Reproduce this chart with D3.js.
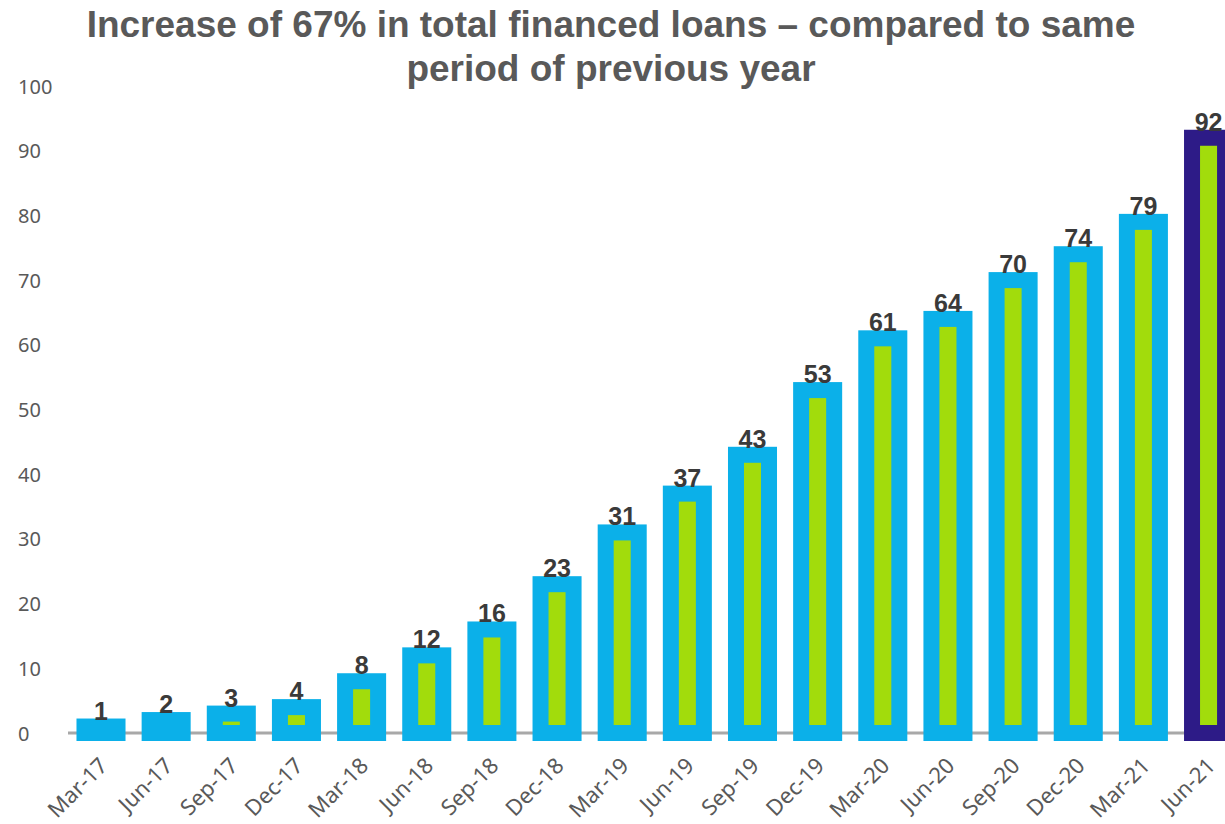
<!DOCTYPE html>
<html>
<head>
<meta charset="utf-8">
<script src="https://cdn.jsdelivr.net/npm/d3@7"></script>
<style>
  html, body { margin: 0; padding: 0; background: #ffffff; }
  svg { display: block; }
</style>
</head>
<body>
<svg id="chart" width="1225" height="824"></svg>
<script>
// Quarterly cumulative financed loans
const periods = ["Mar-17", "Jun-17", "Sep-17", "Dec-17", "Mar-18", "Jun-18", "Sep-18", "Dec-18",
                 "Mar-19", "Jun-19", "Sep-19", "Dec-19", "Mar-20", "Jun-20", "Sep-20", "Dec-20",
                 "Mar-21", "Jun-21"];
const values = [1, 2, 3, 4, 8, 12, 16, 23, 31, 37, 43, 53, 61, 64, 70, 74, 79, 92];
const yTicks = [0, 10, 20, 30, 40, 50, 60, 70, 80, 90, 100];
const titleLines = ["Increase of 67% in total financed loans \u2013 compared to same",
                    "period of previous year"];

const svg = d3.select("#chart");
const W = 1225;

const y = d3.scaleLinear().domain([0, 100]).range([733, 86]);
const step = 65.15;
const x = d3.scaleBand()
  .domain(periods)
  .range([101 - step / 2, 101 - step / 2 + step * periods.length])
  .paddingInner(0.493)
  .paddingOuter(0.2465);

const gray = "#595959";
const blue = "#0bb0e9";
const green = "#a2dc0c";
const purple = "#2d1b87";
const sw = 16;

// Title
svg.append("g").selectAll("text")
  .data(titleLines)
  .join("text")
  .attr("x", 611)
  .attr("y", (d, i) => 37 + i * 44)
  .attr("text-anchor", "middle")
  .attr("font-family", "Liberation Sans, Arial, sans-serif")
  .attr("font-weight", "bold")
  .attr("font-size", 37)
  .attr("fill", gray)
  .text(d => d);

// Y axis labels (left aligned, no axis line)
const yAxis = d3.axisLeft(y).tickValues(yTicks).tickSize(0).tickPadding(0);
const gy = svg.append("g").attr("transform", "translate(18,0)").call(yAxis);
gy.select(".domain").remove();
gy.selectAll("text")
  .attr("text-anchor", "start")
  .attr("x", 0)
  .attr("dy", "0.35em")
  .attr("font-family", "Noto Sans, sans-serif")
  .attr("font-size", 20)
  .attr("fill", gray);

// Baseline
svg.append("line")
  .attr("x1", 68).attr("x2", W)
  .attr("y1", y(0)).attr("y2", y(0))
  .attr("stroke", "#a8a8a8")
  .attr("stroke-width", 3);

// Bars: thick outline with inner fill
const last = periods.length - 1;
svg.append("g").selectAll("rect")
  .data(values)
  .join("rect")
  .attr("x", (d, i) => x(periods[i]))
  .attr("width", x.bandwidth())
  .attr("y", d => y(d))
  .attr("height", d => y(0) - y(d))
  .attr("fill", green)
  .attr("stroke", (d, i) => i === last ? purple : blue)
  .attr("stroke-width", sw);

// Value labels
svg.append("g").selectAll("text")
  .data(values)
  .join("text")
  .attr("x", (d, i) => x(periods[i]) + x.bandwidth() / 2)
  .attr("y", d => y(d) - sw / 2 + 1)
  .attr("text-anchor", "middle")
  .attr("font-family", "Liberation Sans, Arial, sans-serif")
  .attr("font-weight", "bold")
  .attr("font-size", 25)
  .attr("fill", "#3a3a3a")
  .text(d => d);

// X axis labels, rotated
const xAxis = d3.axisBottom(x).tickSize(0).tickPadding(0);
const gx = svg.append("g").attr("transform", `translate(0,${y(0)})`).call(xAxis);
gx.select(".domain").remove();
gx.selectAll("text")
  .attr("text-anchor", "end")
  .attr("dy", 0)
  .attr("y", 0)
  .attr("transform", "translate(8,34) rotate(-45)")
  .attr("font-family", "Noto Sans, sans-serif")
  .attr("font-size", 22)
  .attr("fill", gray);
</script>
</body>
</html>
